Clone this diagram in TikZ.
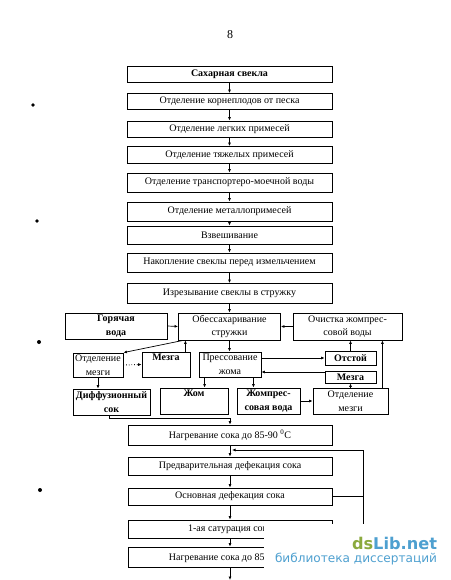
\documentclass[tikz,border=0pt]{standalone}
\usepackage{fontspec}
\setmainfont{Liberation Serif}
\newfontfamily\wmfont{DejaVu Sans}
\usepackage{graphicx}
\usetikzlibrary{arrows.meta}
\definecolor{wmgreen}{RGB}{139,170,62}
\definecolor{wmblue}{RGB}{78,160,208}
\begin{document}
\begin{tikzpicture}[x=1pt,y=-1pt,
  box/.style={draw, line width=0.8pt, inner sep=1pt, align=center, font=\fontsize{10}{13.5}\selectfont},
  bbox/.style={box, font=\fontsize{10}{13.5}\selectfont\bfseries},
  arr/.style={-{Latex[length=3.5pt,width=3pt]}, line width=0.7pt},
  ln/.style={line width=0.7pt}]
\useasboundingbox (0,0) rectangle (450,580);

% page number
\node[font=\fontsize{12}{12}\selectfont] (pg) at (230,35) {8};

% specks
\fill (33,105) circle (1.8);
\fill (37,221) circle (1.8);
\fill (39,342) circle (2);
\fill (40,490) circle (2);

% main column
\node[bbox, minimum width=205pt, minimum height=16pt] (n1) at (229.5,74) {Сахарная свекла};
\node[box, minimum width=205pt, minimum height=16pt] (n2) at (229.5,101.5) {Отделение корнеплодов от песка};
\node[box, minimum width=205pt, minimum height=16pt] (n3) at (229.5,129) {Отделение легких примесей};
\node[box, minimum width=205pt, minimum height=17pt] (n4) at (229.5,155) {Отделение тяжелых примесей};
\node[box, minimum width=205pt, minimum height=19pt] (n5) at (229.5,182.5) {Отделение транспортеро-моечной воды};
\node[box, minimum width=205pt, minimum height=19pt] (n6) at (229.5,211.5) {Отделение металлопримесей};
\node[box, minimum width=205pt, minimum height=18pt] (n7) at (229.5,235) {Взвешивание};
\node[box, minimum width=205pt, minimum height=19pt] (n8) at (229.5,262.5) {Накопление свеклы перед измельчением};
\node[box, minimum width=205pt, minimum height=20pt] (n9) at (229.5,293.5) {Изрезывание свеклы в стружку};

% middle section
\node[bbox, minimum width=102pt, minimum height=26pt] (hw) at (116,326) {Горячая\\вода};
\node[box, minimum width=102pt, minimum height=27pt] (obs) at (229.5,326.5) {Обессахаривание\\стружки};
\node[box, minimum width=109pt, minimum height=27pt] (och) at (347.5,326.5) {Очистка жомпрес-\\совой воды};

\node[box, minimum width=50pt, minimum height=24pt, inner sep=0.5pt] (om1) at (98,365) {Отделение\\мезги};
\node[bbox, minimum width=48pt, minimum height=25pt] (mz1) at (166,364.5) {Мезга\\[-2pt]\strut};
\node[box, minimum width=62pt, minimum height=25pt] (pr) at (230,364.5) {Прессование\\жома};
\node[bbox, minimum width=51pt, minimum height=14pt, inner sep=0.5pt] (ots) at (350.5,358) {Отстой};
\node[bbox, minimum width=51pt, minimum height=12pt, inner sep=0.5pt] (mz2) at (350.5,377) {Мезга};

\node[bbox, minimum width=77pt, minimum height=26pt] (dif) at (111.5,402) {Диффузионный\\сок};
\node[bbox, minimum width=68pt, minimum height=26pt] (zhom) at (194,401) {Жом\\[-2pt]\strut};
\node[bbox, minimum width=63pt, minimum height=26pt] (zpv) at (268.5,401) {Жомпрес-\\совая вода};
\node[box, minimum width=75pt, minimum height=26pt] (om2) at (350.5,401) {Отделение\\мезги};

% bottom column
\node[box, minimum width=204pt, minimum height=20pt] (b1) at (230,435) {Нагревание сока до 85-90 \textsuperscript{0}C};
\node[box, minimum width=204pt, minimum height=18pt] (b2) at (230,466) {Предварительная дефекация сока};
\node[box, minimum width=204pt, minimum height=17pt] (b3) at (230,496.5) {Основная дефекация сока};
\node[box, minimum width=204pt, minimum height=18pt] (b4) at (230,529) {1-ая сатурация сока};
\node[box, minimum width=204pt, minimum height=20pt] (b5) at (230,557) {Нагревание сока до 85-90 \textsuperscript{0}C};

\coordinate (bend) at (230,580);
\coordinate (lpr) at (363,450);
\coordinate (lpl) at (232,450);

% main column arrows
\foreach \a/\b in {n1/n2,n2/n3,n3/n4,n4/n5,n5/n6,n6/n7,n7/n8,n8/n9}
  \draw[arr] (\a.south) -- (\a.south |- \b.north);
\draw[arr] (n9.south) -- (n9.south |- obs.north);

% middle arrows
\draw[arr] (hw.east) -- (obs.west);
\draw[arr] (och.west) -- (obs.east);
\draw[arr] ([xshift=5pt]obs.south west) -- (om1.north east);
\draw[arr] ([xshift=-5pt]mz1.north east) -- ([xshift=-5pt]mz1.north east |- obs.south);
\draw[arr, dotted, line width=0.9pt] (om1.east) -- (mz1.west);
\draw[arr] (om1.south) -- (om1.south |- dif.north);
\draw[arr] (obs.south) -- (obs.south |- pr.north);
\draw[arr] ([xshift=6pt]pr.south west) -- ([xshift=6pt]pr.south west |- zhom.north);
\draw[arr] ([xshift=-8pt]pr.south east) -- ([xshift=-8pt]pr.south east |- zpv.north);
\draw[arr] (pr.east |- ots.west) -- (ots.west);
\draw[arr] ([yshift=5pt]mz2.west) -- ([yshift=5pt]mz2.west -| pr.east);
\draw[arr] (ots.north) -- (ots.north |- och.south);
\draw[arr] (om2.north) -- (mz2.south);
\draw[arr] ([xshift=-6pt]om2.north east) -- ([xshift=-6pt]om2.north east |- och.south);
\draw[arr] (zpv.east) -- (om2.west);
\draw[arr] ([xshift=-2pt]dif.south) -- ++(0,3) -| (b1.north);

% bottom arrows
\foreach \a/\b in {b1/b2,b2/b3,b3/b4,b4/b5}
  \draw[arr] (\a.south) -- (\a.south |- \b.north);
\draw[arr] (b5.south) -- (bend);
\draw[ln] (b4.east) -| (lpr);
\draw[ln] (b3.east) -- (b3.east -| lpr);
\draw[arr] (lpr) -- (lpl);

% watermark
\fill[white] (264,524) rectangle (450,580);
\node[inner sep=0pt] (wm1) at (394.5,543.5) {\resizebox{85pt}{!}{\wmfont\bfseries\textcolor{wmgreen}{ds}\textcolor{wmblue}{Lib.net}}};
\node[inner sep=0pt] (wm2) at (356,559) {\resizebox{162pt}{!}{\wmfont\textcolor{wmblue}{библиотека диссертаций}}};
\end{tikzpicture}
\end{document}
